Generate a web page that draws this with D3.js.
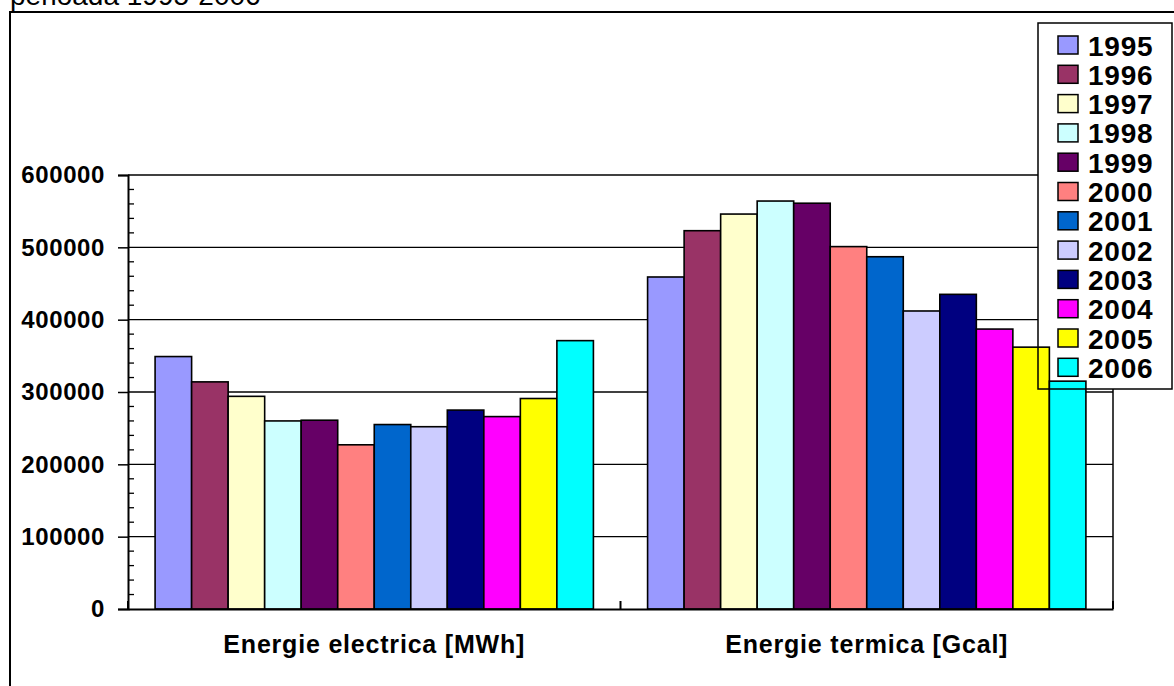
<!DOCTYPE html>
<html>
<head>
<meta charset="utf-8">
<script src="https://cdn.jsdelivr.net/npm/d3@7"></script>
<style>
  html, body { margin: 0; padding: 0; background: #fff; overflow: hidden; }
  svg { display: block; }
  text { font-family: Arial, "Liberation Sans", sans-serif; }
</style>
</head>
<body>
<svg id="chart" width="1174" height="686"></svg>
<script>
// Categories (x axis groups)
const categories = ["Energie electrica [MWh]", "Energie termica [Gcal]"];
// Years (one bar per year inside each group)
const years = ["1995", "1996", "1997", "1998", "1999", "2000", "2001", "2002", "2003", "2004", "2005", "2006"];
// Yearly values for each category
const electrica = [349000, 314000, 294000, 260000, 261000, 227000, 255000, 252000, 275000, 266000, 291000, 371000];
const termica   = [459000, 523000, 546000, 564000, 561000, 501000, 487000, 412000, 435000, 387000, 362000, 315000];
// Colour for each year
const yearColors = ["#9999FF", "#993366", "#FFFFCC", "#CCFFFF", "#660066", "#FF8080",
                    "#0066CC", "#CCCCFF", "#000080", "#FF00FF", "#FFFF00", "#00FFFF"];
// Value axis ticks
const yTicks = [0, 100000, 200000, 300000, 400000, 500000, 600000];
const yMinorTicks = d3.range(0, 600001, 20000).filter(v => v % 100000 !== 0);

const seriesByCategory = [electrica, termica];

const svg = d3.select("#chart");

// Plot area
const plot = { left: 128, right: 1113, top: 175, bottom: 609 };

const x0 = d3.scaleBand()
  .domain(categories)
  .range([plot.left, plot.right])
  .paddingInner(0.11)
  .paddingOuter(0.055);

const x1 = d3.scaleBand()
  .domain(years)
  .range([0, x0.bandwidth()])
  .padding(0);

const y = d3.scaleLinear()
  .domain([0, 600000])
  .range([plot.bottom, plot.top]);

const color = d3.scaleOrdinal().domain(years).range(yearColors);

// Title line above the frame
svg.append("text")
  .attr("x", 10)
  .attr("y", 5)
  .attr("font-size", 28)
  .attr("fill", "#000")
  .text("perioada 1995-2006");

// Outer frame
svg.append("rect")
  .attr("x", 10).attr("y", 12)
  .attr("width", 1200).attr("height", 720)
  .attr("fill", "#fff")
  .attr("stroke", "#000")
  .attr("stroke-width", 2);

// Horizontal gridlines
svg.append("g")
  .selectAll("line")
  .data(yTicks.filter(d => d > 0))
  .join("line")
  .attr("x1", plot.left).attr("x2", plot.right)
  .attr("y1", d => y(d)).attr("y2", d => y(d))
  .attr("stroke", "#000")
  .attr("stroke-width", 1.3);

// Right border of the plot area
svg.append("line")
  .attr("x1", plot.right).attr("x2", plot.right)
  .attr("y1", plot.top).attr("y2", plot.bottom)
  .attr("stroke", "#000")
  .attr("stroke-width", 1.5);

// Legend geometry
const legend = { x: 1038, y: 23, w: 134, h: 366, rowH: 29.3 };

// Legend background (sits under the bars)
svg.append("rect")
  .attr("x", legend.x).attr("y", legend.y)
  .attr("width", legend.w).attr("height", legend.h)
  .attr("fill", "#fff");

// Bars
const groups = svg.append("g")
  .selectAll("g")
  .data(categories.map((c, i) => ({ cat: c, values: seriesByCategory[i] })))
  .join("g")
  .attr("transform", d => `translate(${x0(d.cat)},0)`);

groups.selectAll("rect")
  .data(d => d.values.map((v, j) => ({ year: years[j], value: v })))
  .join("rect")
  .attr("x", d => x1(d.year))
  .attr("y", d => y(d.value))
  .attr("width", x1.bandwidth())
  .attr("height", d => y(0) - y(d.value))
  .attr("fill", d => color(d.year))
  .attr("stroke", "#000")
  .attr("stroke-width", 1.6);

// Y axis with major ticks outside
const yAxis = svg.append("g")
  .attr("transform", `translate(${plot.left},0)`)
  .call(d3.axisLeft(y).tickValues(yTicks).tickSize(10).tickPadding(13).tickFormat(d3.format("d")));
yAxis.select(".domain").attr("stroke", "#000").attr("stroke-width", 2);
yAxis.selectAll(".tick line").attr("stroke", "#000").attr("stroke-width", 1.5);
yAxis.selectAll(".tick text")
  .attr("font-size", 24)
  .attr("font-weight", "bold")
  .attr("letter-spacing", 0.6)
  .attr("font-family", "Arial, 'Liberation Sans', sans-serif")
  .attr("fill", "#000");

// Minor ticks inside the plot
svg.append("g")
  .selectAll("line")
  .data(yMinorTicks)
  .join("line")
  .attr("x1", plot.left).attr("x2", plot.left + 6)
  .attr("y1", d => y(d)).attr("y2", d => y(d))
  .attr("stroke", "#000")
  .attr("stroke-width", 1.3);

// X axis with category labels
const xAxis = svg.append("g")
  .attr("transform", `translate(0,${plot.bottom})`)
  .call(d3.axisBottom(x0).tickSize(0).tickPadding(0));
xAxis.select(".domain").attr("stroke", "#000").attr("stroke-width", 2);
xAxis.selectAll(".tick text")
  .attr("y", 44)
  .attr("dy", 0)
  .attr("font-size", 25)
  .attr("font-weight", "bold")
  .attr("letter-spacing", 0.8)
  .attr("font-family", "Arial, 'Liberation Sans', sans-serif")
  .attr("fill", "#000");

// Category divider ticks pointing up into the plot
const step = x0.step();
const dividers = d3.range(categories.length + 1).map(i => plot.left + i * step);
svg.append("g")
  .selectAll("line")
  .data(dividers)
  .join("line")
  .attr("x1", d => d).attr("x2", d => d)
  .attr("y1", plot.bottom).attr("y2", plot.bottom - 8)
  .attr("stroke", "#000")
  .attr("stroke-width", 2);

// Legend border and entries (drawn over the bars)
svg.append("rect")
  .attr("x", legend.x).attr("y", legend.y)
  .attr("width", legend.w).attr("height", legend.h)
  .attr("fill", "none")
  .attr("stroke", "#000")
  .attr("stroke-width", 1.5);

const items = svg.append("g")
  .selectAll("g")
  .data(years)
  .join("g")
  .attr("transform", (d, i) => `translate(${legend.x},${legend.y + 13 + i * legend.rowH})`);

items.append("rect")
  .attr("x", 20).attr("y", 0)
  .attr("width", 20).attr("height", 18)
  .attr("fill", d => color(d))
  .attr("stroke", "#000")
  .attr("stroke-width", 1.5);

items.append("text")
  .attr("x", 50).attr("y", 19.5)
  .attr("font-size", 28)
  .attr("font-weight", "bold")
  .attr("letter-spacing", 0.8)
  .attr("fill", "#000")
  .text(d => d);
</script>
</body>
</html>
